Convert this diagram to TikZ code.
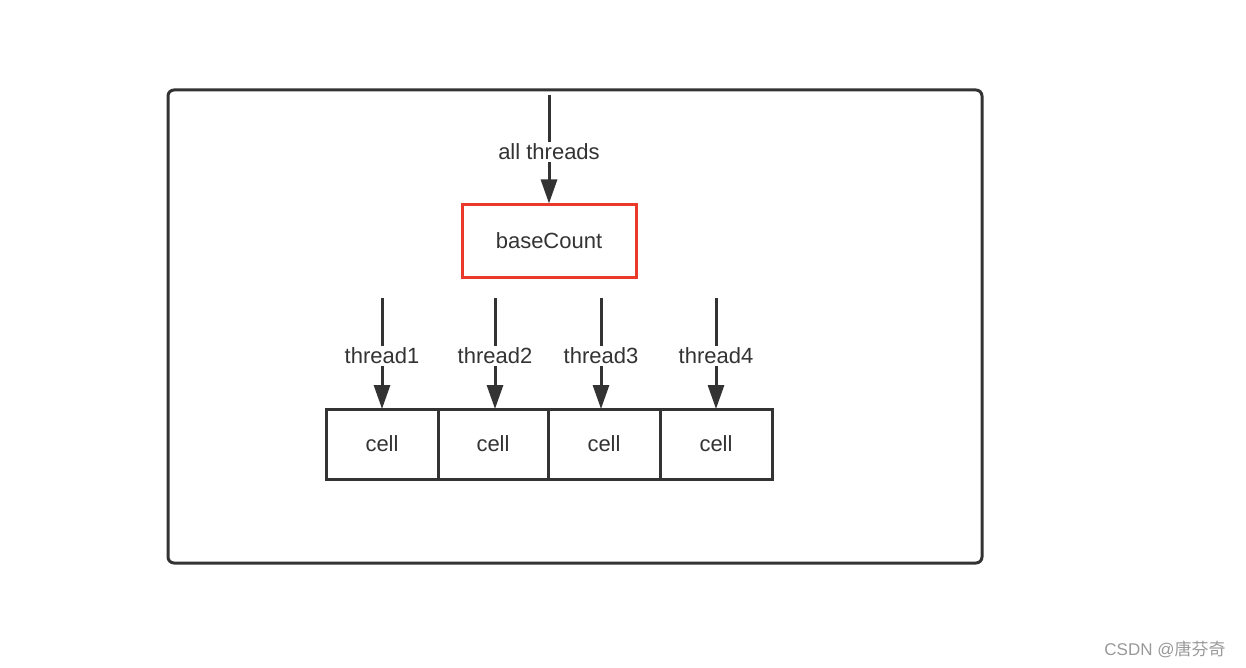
\documentclass[tikz,border=0pt]{standalone}
\usepackage{fontspec}
\setmainfont{Liberation Sans}
\newfontfamily\cjk{Noto Sans CJK SC}
\usetikzlibrary{arrows.meta}
\definecolor{dk}{HTML}{333333}
\definecolor{rd}{HTML}{E8392B}
\begin{document}
\begin{tikzpicture}[x=1pt,y=-1pt,
  lw/.style={line width=3pt,draw=dk},
  arr/.style={line width=3pt,draw=dk,-{Triangle[length=24pt,width=16pt]}},
  lab/.style={fill=white,inner sep=2pt,font=\fontsize{22}{24}\selectfont,text=dk},
  cellbox/.style={lw,minimum width=112pt,minimum height=70pt,font=\fontsize{22}{24}\selectfont,text=dk,inner sep=0pt}]
\useasboundingbox (0,0) rectangle (1246,668);
\draw[lw,rounded corners=6pt] (168,90) rectangle (982,563);
\node[draw=rd,line width=3pt,minimum width=174pt,minimum height=72pt,font=\fontsize{22}{24}\selectfont,text=dk] (base) at (549,241) {baseCount};
\coordinate (top) at (549,95);
\draw[arr] (top) -- (base.north);
\node[lab] at (549,152) {all threads};
\node[cellbox,minimum width=112pt] (c1) at (382,444) {cell};
\node[cellbox,minimum width=110pt] (c2) at (493,444) {cell};
\node[cellbox,minimum width=112pt] (c3) at (604,444) {cell};
\node[cellbox,minimum width=112pt] (c4) at (716,444) {cell};
\foreach \x/\n/\c in {382/1/c1,495/2/c2,601/3/c3,716/4/c4}{
  \coordinate (t\n) at (\x,298);
  \draw[arr] (t\n) -- (\x,409);
  \node[lab] at (\x,356) {thread\n};
}
\node[font=\fontsize{17}{19}\selectfont,text=gray!80] at (1165,649) {CSDN @{\cjk 唐芬奇}};
\end{tikzpicture}
\end{document}
